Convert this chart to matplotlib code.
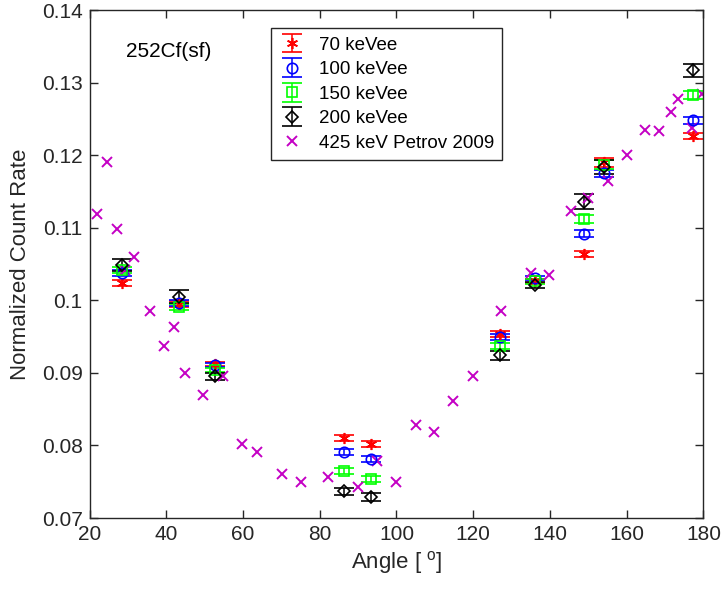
import matplotlib
matplotlib.use("Agg")
import matplotlib.pyplot as plt

plt.rcParams['font.family'] = ['Liberation Sans', 'DejaVu Sans']
plt.rcParams['mathtext.fontset'] = 'custom'
plt.rcParams['mathtext.rm'] = 'Liberation Sans'

# Measured angular distributions (angle in degrees)
angles = [28.4, 43.4, 52.7, 86.3, 93.35, 127.0, 136.2, 148.8, 154.1, 177.3]

rate_70 = [0.1024, 0.0995, 0.0912, 0.0810, 0.0802, 0.0954, 0.1027, 0.1064, 0.1190, 0.1226]
err_70 = [0.0004, 0.0004, 0.0003, 0.0004, 0.0004, 0.0004, 0.0003, 0.0004, 0.0006, 0.0004]

rate_100 = [0.1038, 0.0996, 0.0911, 0.0791, 0.0781, 0.0949, 0.1031, 0.1092, 0.1175, 0.1248]
err_100 = [0.0004, 0.0004, 0.0003, 0.0004, 0.0004, 0.0004, 0.0003, 0.0005, 0.0005, 0.0005]

rate_150 = [0.1042, 0.0991, 0.0904, 0.0765, 0.0754, 0.0937, 0.1026, 0.1112, 0.1187, 0.1283]
err_150 = [0.0004, 0.0004, 0.0003, 0.0004, 0.0004, 0.0004, 0.0003, 0.0006, 0.0006, 0.0005]

rate_200 = [0.1049, 0.1005, 0.0895, 0.0737, 0.0729, 0.0924, 0.1021, 0.1136, 0.1184, 0.1317]
err_200 = [0.0008, 0.0009, 0.0005, 0.0005, 0.0005, 0.0006, 0.0004, 0.0010, 0.0010, 0.0009]

# Reference data: 425 keV, Petrov 2009
petrov_angle = [22.0, 24.6, 27.2, 29.25, 31.6, 35.8, 39.4, 42.0, 44.9, 49.7,
                54.9, 59.8, 63.7, 70.2, 75.1, 82.2, 90.0, 94.8, 99.9, 105.0,
                109.9, 114.6, 120.0, 127.2, 135.0, 139.8, 145.4, 149.9, 155.2, 160.1,
                164.7, 168.4, 171.5, 173.4, 176.9, 179.5]
petrov_rate = [0.1119, 0.1191, 0.1098, 0.1042, 0.1060, 0.0985, 0.0937, 0.0963, 0.0900, 0.0870,
               0.0895, 0.0802, 0.0791, 0.0760, 0.0749, 0.0756, 0.0743, 0.0778, 0.0749, 0.0828,
               0.0818, 0.0861, 0.0896, 0.0985, 0.1037, 0.1035, 0.1123, 0.1141, 0.1165, 0.1200,
               0.1235, 0.1233, 0.1260, 0.1277, 0.1238, 0.1284]

x_ticks = [20, 40, 60, 80, 100, 120, 140, 160, 180]
y_ticks = [0.07, 0.08, 0.09, 0.10, 0.11, 0.12, 0.13, 0.14]
y_tick_labels = ['0.07', '0.08', '0.09', '0.1', '0.11', '0.12', '0.13', '0.14']

fig = plt.figure(figsize=(7.23, 5.92), dpi=100)
ax = fig.add_axes([0.1238, 0.125, 0.8492, 0.8581])

axis_col = (0.15, 0.15, 0.15)
magenta = '#c400c4'

common = dict(linestyle='none', elinewidth=1.1, capsize=7, capthick=1.1,
              markeredgewidth=1.2, markerfacecolor='none')

h70 = ax.errorbar(angles, rate_70, yerr=err_70, color='red', marker=(6, 2, 0),
                  markersize=8, label='70 keVee', **common)
h100 = ax.errorbar(angles, rate_100, yerr=err_100, color='blue', marker='o',
                   markersize=7.5, label='100 keVee', **common)
h150 = ax.errorbar(angles, rate_150, yerr=err_150, color='#00ff00', marker='s',
                   markersize=6.5, label='150 keVee', **common)
h200 = ax.errorbar(angles, rate_200, yerr=err_200, color='black', marker='D',
                   markersize=6.5, label='200 keVee', **common)
hp, = ax.plot(petrov_angle, petrov_rate, linestyle='none', marker='x', color=magenta,
              markersize=6.5, markeredgewidth=1.4, label='425 keV Petrov 2009')

ax.set_xlim(20, 180)
ax.set_ylim(0.07, 0.14)
ax.set_xticks(x_ticks)
ax.set_xticklabels([str(t) for t in x_ticks])
ax.set_yticks(y_ticks)
ax.set_yticklabels(y_tick_labels)

ax.tick_params(direction='in', length=6, width=1.0, colors=axis_col,
               labelsize=15, top=True, right=True, pad=5)
for s in ax.spines.values():
    s.set_color(axis_col)
    s.set_linewidth(1.0)

ax.set_xlabel('Angle [ $^{\\mathrm{o}}$]', fontsize=16, color=axis_col, labelpad=4)
ax.set_ylabel('Normalized Count Rate', fontsize=16, color=axis_col, labelpad=8)

ax.text(29.5, 0.1343, '252Cf(sf)', fontsize=15, color='black',
        ha='left', va='center')

leg = ax.legend(handles=[h70, h100, h150, h200, hp],
                loc='upper left', bbox_to_anchor=(0.2956, 0.9646), fontsize=13.5,
                frameon=True, fancybox=False, framealpha=1, edgecolor=axis_col,
                borderpad=0.45, labelspacing=0.4, handlelength=1.3,
                handletextpad=0.8, borderaxespad=0)
leg.get_frame().set_linewidth(1.0)

fig.savefig('out.png', dpi=100)
